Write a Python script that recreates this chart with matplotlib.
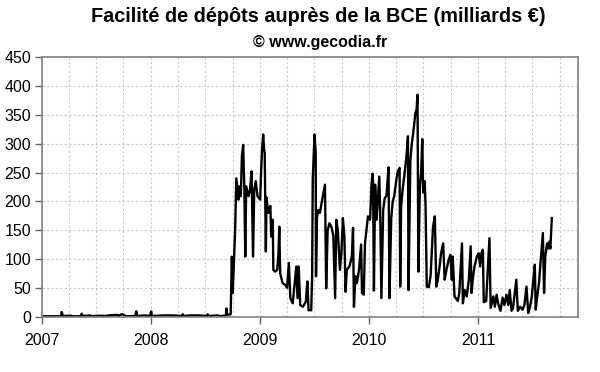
import matplotlib
matplotlib.use("Agg")
import matplotlib.pyplot as plt
import matplotlib.dates as mdates
import pandas as pd

# ECB deposit facility, billions of euros
dates = [
    "2007-01-03", "2007-03-06", "2007-03-08", "2007-03-12", "2007-04-10", "2007-04-12",
    "2007-05-10", "2007-05-14", "2007-05-16", "2007-06-12", "2007-06-14", "2007-07-10",
    "2007-08-08", "2007-08-10", "2007-09-10", "2007-09-12", "2007-09-24", "2007-10-02",
    "2007-10-09", "2007-11-09", "2007-11-13", "2007-11-15", "2007-12-11", "2007-12-28",
    "2008-01-02", "2008-01-04", "2008-02-12", "2008-03-11", "2008-04-14", "2008-04-16",
    "2008-04-18", "2008-05-13", "2008-06-10", "2008-07-07", "2008-07-09", "2008-07-11",
    "2008-08-12", "2008-08-20", "2008-09-08", "2008-09-10", "2008-09-12", "2008-09-24",
    "2008-09-28", "2008-10-01", "2008-10-09", "2008-10-13", "2008-10-20", "2008-10-22",
    "2008-10-28", "2008-11-01", "2008-11-05", "2008-11-09", "2008-11-12", "2008-11-15",
    "2008-11-23", "2008-11-28", "2008-12-03", "2008-12-08", "2008-12-12", "2008-12-17",
    "2008-12-23", "2009-01-01", "2009-01-04", "2009-01-07", "2009-01-11", "2009-01-14",
    "2009-01-16", "2009-01-20", "2009-01-22", "2009-01-28", "2009-02-04", "2009-02-07",
    "2009-02-12", "2009-02-14", "2009-02-20", "2009-02-27", "2009-03-03", "2009-03-06",
    "2009-03-09", "2009-03-17", "2009-03-26", "2009-04-01", "2009-04-07", "2009-04-12",
    "2009-04-20", "2009-05-02", "2009-05-06", "2009-05-10", "2009-05-15", "2009-05-24",
    "2009-06-03", "2009-06-08", "2009-06-12", "2009-06-21", "2009-06-24", "2009-06-26",
    "2009-07-02", "2009-07-06", "2009-07-07", "2009-07-10", "2009-07-14", "2009-07-20",
    "2009-07-26", "2009-08-06", "2009-08-10", "2009-08-15", "2009-08-21", "2009-08-28",
    "2009-09-03", "2009-09-09", "2009-09-13", "2009-09-18", "2009-09-25", "2009-09-30",
    "2009-10-05", "2009-10-10", "2009-10-14", "2009-10-18", "2009-10-27", "2009-11-04",
    "2009-11-08", "2009-11-11", "2009-11-16", "2009-11-21", "2009-11-28", "2009-12-05",
    "2009-12-08", "2009-12-14", "2009-12-18", "2009-12-23", "2009-12-28", "2010-01-04",
    "2010-01-09", "2010-01-12", "2010-01-14", "2010-01-17", "2010-01-21", "2010-01-26",
    "2010-02-04", "2010-02-07", "2010-02-11", "2010-02-17", "2010-02-22", "2010-02-28",
    "2010-03-07", "2010-03-10", "2010-03-16", "2010-03-21", "2010-03-26", "2010-04-02",
    "2010-04-07", "2010-04-13", "2010-04-15", "2010-04-18", "2010-04-23", "2010-04-29",
    "2010-05-07", "2010-05-11", "2010-05-13", "2010-05-19", "2010-05-24", "2010-05-28",
    "2010-06-05", "2010-06-09", "2010-06-12", "2010-06-15", "2010-06-20", "2010-06-24",
    "2010-06-28", "2010-07-01", "2010-07-06", "2010-07-09", "2010-07-13", "2010-07-20",
    "2010-07-26", "2010-08-03", "2010-08-09", "2010-08-14", "2010-08-19", "2010-08-25",
    "2010-08-30", "2010-09-06", "2010-09-11", "2010-09-17", "2010-09-24", "2010-09-30",
    "2010-10-05", "2010-10-08", "2010-10-14", "2010-10-25", "2010-10-30", "2010-11-08",
    "2010-11-11", "2010-11-17", "2010-11-24", "2010-12-01", "2010-12-07", "2010-12-10",
    "2010-12-14", "2010-12-20", "2010-12-28", "2011-01-03", "2011-01-08", "2011-01-12",
    "2011-01-17", "2011-01-20", "2011-01-28", "2011-02-08", "2011-02-12", "2011-02-21",
    "2011-02-26", "2011-03-04", "2011-03-09", "2011-03-17", "2011-03-24", "2011-03-30",
    "2011-04-06", "2011-04-12", "2011-04-17", "2011-04-23", "2011-04-28", "2011-05-09",
    "2011-05-14", "2011-05-22", "2011-05-30", "2011-06-05", "2011-06-12", "2011-06-18",
    "2011-06-24", "2011-06-30", "2011-07-05", "2011-07-10", "2011-07-13", "2011-07-18",
    "2011-07-24", "2011-07-29", "2011-08-06", "2011-08-10", "2011-08-14", "2011-08-20",
    "2011-08-24", "2011-08-28", "2011-08-31", "2011-09-05",
]
deposits = [
    0.5, 0.5, 8, 1, 1.5, 0.5,
    0.5, 5, 1, 2, 0.5, 1.5,
    1, 2, 3, 0.5, 4, 3,
    0.5, 1, 9, 1, 2, 1,
    9, 1, 2, 2, 1, 4,
    1, 2, 2, 1, 4, 1,
    2, 0.5, 2, 14, 3, 4,
    104, 41, 150, 240, 203, 226,
    209, 281, 298, 220, 104, 226,
    209, 220, 252, 104, 220, 235,
    209, 203, 252, 287, 316, 290,
    284, 113, 207, 180, 192, 139,
    168, 81, 78, 81, 107, 156,
    75, 58, 55, 50, 93, 32,
    23, 87, 32, 87, 20, 17,
    26, 61, 11, 11, 72, 237,
    316, 284, 70, 171, 185, 180,
    198, 229, 49, 150, 162, 155,
    140, 32, 168, 150, 81, 110,
    171, 139, 43, 81, 87, 104,
    154, 17, 70, 58, 81, 125,
    41, 38, 127, 150, 174, 168,
    229, 248, 232, 45, 229, 168,
    243, 180, 32, 185, 205, 210,
    259, 32, 170, 200, 209, 237,
    252, 258, 52, 190, 220, 245,
    284, 313, 46, 270, 301, 316,
    353, 360, 385, 78, 226, 250,
    308, 215, 235, 191, 52, 51,
    72, 156, 174, 52, 64, 87,
    110, 127, 64, 81, 98, 107,
    64, 104, 35, 27, 41, 127,
    23, 46, 35, 64, 122, 41,
    64, 87, 104, 110, 87, 110,
    116, 25, 27, 136, 15, 35,
    17, 38, 23, 10, 33, 20,
    38, 20, 46, 10, 15, 64,
    10, 17, 12, 20, 52, 6,
    17, 35, 64, 90, 12, 35,
    58, 93, 145, 41, 104, 127,
    118, 130, 118, 171,
]

title = "Facilité de dépôts auprès de la BCE (milliards €)"
subtitle = "© www.gecodia.fr"

plt.rcParams['font.family'] = ['Liberation Sans', 'DejaVu Sans']

fig = plt.figure(figsize=(6, 3.72), dpi=100)
ax = fig.add_axes([0.07, 0.149, 0.893, 0.697])

ax.plot(pd.to_datetime(dates), deposits, color='black', linewidth=1.7)

ax.set_xlim(pd.Timestamp("2007-01-01"), pd.Timestamp("2011-12-01"))
ax.set_ylim(0, 450)
ax.set_yticks(range(0, 451, 50))

ax.xaxis.set_major_locator(mdates.YearLocator())
ax.xaxis.set_major_formatter(mdates.DateFormatter('%Y'))
ax.xaxis.set_minor_locator(mdates.MonthLocator(bymonth=[1, 4, 7, 10]))

ax.grid(which='both', axis='x', color='#c8c8c8', linestyle=(0, (2, 2)), linewidth=0.8)
ax.grid(which='major', axis='y', color='#c8c8c8', linestyle=(0, (2, 2)), linewidth=0.8)
ax.set_axisbelow(True)

for side in ['left', 'bottom', 'top', 'right']:
    ax.spines[side].set_color('#808080')
    ax.spines[side].set_linewidth(1.2)

ax.tick_params(axis='both', which='major', direction='out', length=5, width=1,
               color='#606060', labelsize=11.5, pad=3)
ax.tick_params(axis='x', which='minor', length=0)
ax.tick_params(axis='x', which='major', pad=7)

fig.text(0.53, 0.955, title, ha='center', va='center', fontsize=14.3, fontweight='bold')
fig.text(0.533, 0.885, subtitle, ha='center', va='center', fontsize=11.5, fontweight='bold')

fig.savefig('out.png', dpi=100)
